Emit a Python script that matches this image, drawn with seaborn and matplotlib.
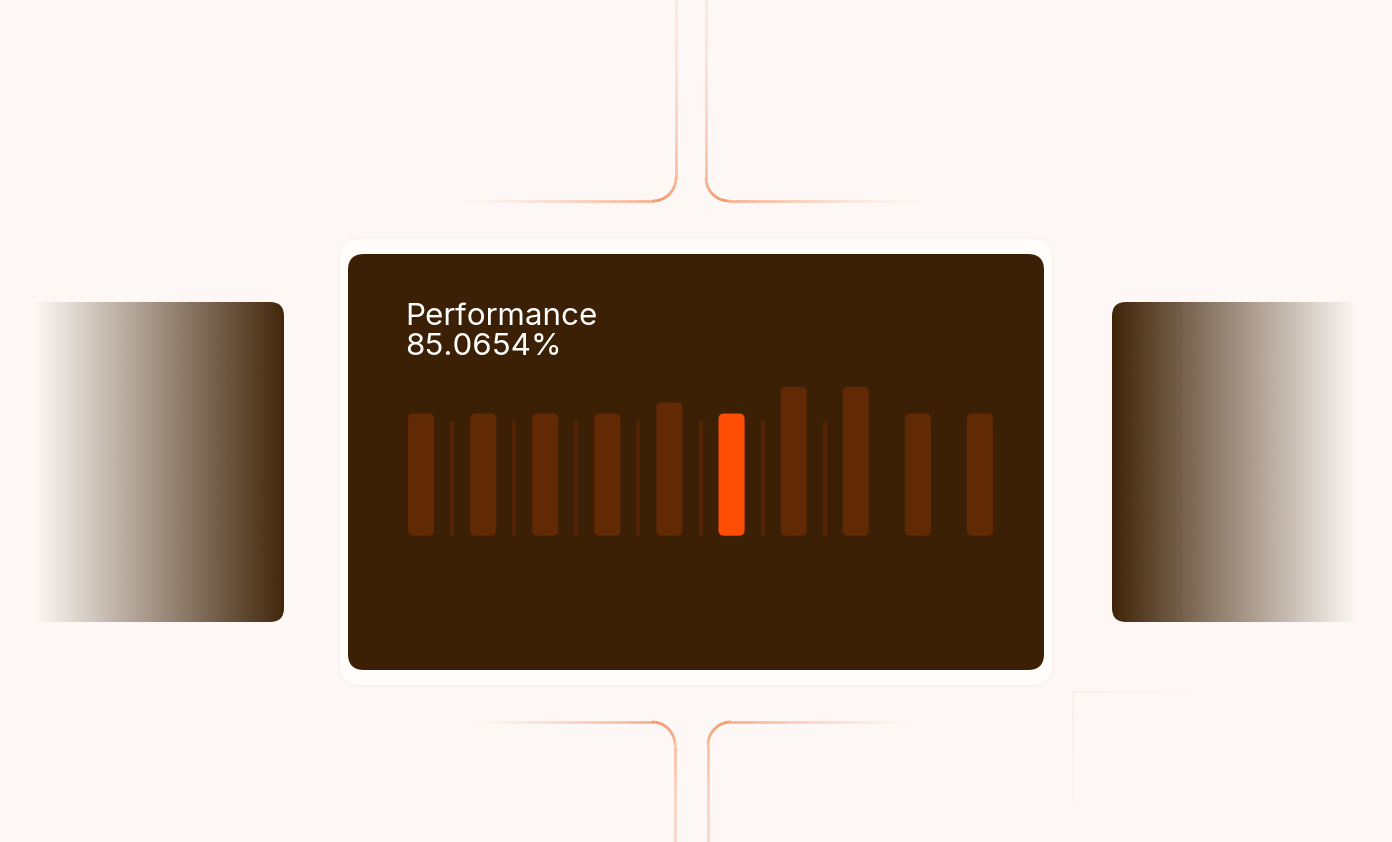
#!/usr/bin/env python3
"""Performance card: rounded bar strip on a dark card with decorative side panels."""

import matplotlib

matplotlib.use("Agg")

import matplotlib.pyplot as plt
import numpy as np
import pandas as pd
import seaborn as sns
from matplotlib.collections import LineCollection
from matplotlib.colors import to_rgb, to_rgba
from matplotlib.patches import FancyBboxPatch


W, H, DPI = 1392, 842, 100

TITLE = "Performance"
SCORE = "85.0654%"

PERIODS = ["P01", "P02", "P03", "P04", "P05", "P06", "P07", "P08", "P09", "P10"]
BAR_VALUES = [82, 82, 82, 82, 89.5, 82, 100, 100, 82, 82]
HIGHLIGHT = "P06"
# thin separators sitting between the first eight bars
TICK_VALUES = [77, 77, 77, 77, 77, 77, 77]

BG = "#FDF8F5"
HALO = "#FFFCFA"
CARD = "#3C2005"
SIDE = "#3F2307"
BAR = "#622905"
BAR_HI = "#FF4D06"
TICK = "#552406"
LINE = "#F2773F"
FAINT = "#F1E7E1"


def px_rect(left, top, right, bottom):
    return [left / W, 1 - bottom / H, (right - left) / W, (bottom - top) / H]


def gradient_panel(ax, left, right, top, bottom, fade_from, fade_to, dark_left):
    n = 400
    xs = np.linspace(left, right, n)
    alpha = np.clip((xs - fade_from) / (fade_to - fade_from), 0, 1)
    if dark_left:
        alpha = 1 - alpha
    rgba = np.zeros((1, n, 4))
    rgba[..., :3] = to_rgb(SIDE)
    rgba[..., 3] = alpha
    im = ax.imshow(rgba, extent=(left, right, bottom, top), aspect="auto",
                   interpolation="bilinear", zorder=1)
    clip = FancyBboxPatch((left, top), right - left, bottom - top,
                          boxstyle="round,pad=0,rounding_size=14",
                          fc="none", ec="none", transform=ax.transData)
    ax.add_patch(clip)
    im.set_clip_path(clip)


def connector(ax, cx, cy, sx, sy, len_v, len_h, r=23, far_v=0.12):
    pts, alphas = [], []
    # vertical arm, from far end towards the corner
    for t in np.linspace(0, 1, 120):
        d = len_v - t * (len_v - r)
        pts.append((cx, cy + sy * d))
        alphas.append(far_v + (0.5 - far_v) * t ** 2)
    # rounded corner
    ccx, ccy = cx + sx * r, cy + sy * r
    for th in np.linspace(0, np.pi / 2, 30):
        pts.append((ccx - sx * r * np.cos(th), ccy - sy * r * np.sin(th)))
        alphas.append(0.5 + 0.3 * np.sin(th))
    # horizontal arm fading out
    for t in np.linspace(0, 1, 120):
        d = r + t * (len_h - r)
        pts.append((cx + sx * d, cy))
        alphas.append(0.6 * (1 - t) ** 1.4)
    pts = np.array(pts)
    segs = np.stack([pts[:-1], pts[1:]], axis=1)
    colors = [to_rgba(LINE, a) for a in alphas[:-1]]
    ax.add_collection(LineCollection(segs, colors=colors, linewidths=2.0,
                                     capstyle="butt", zorder=2))


def faint_corner(ax, x0, y0, len_h, len_v):
    steps = np.linspace(0, 1, 60)
    for t0, t1 in zip(steps[:-1], steps[1:]):
        a = 0.6 * (1 - t0)
        ax.plot([x0 + t0 * len_h, x0 + t1 * len_h], [y0, y0], color=FAINT,
                alpha=a, lw=1.2, solid_capstyle="butt", zorder=1)
        ax.plot([x0, x0], [y0 + t0 * len_v, y0 + t1 * len_v], color=FAINT,
                alpha=a, lw=1.2, solid_capstyle="butt", zorder=1)


def main():
    sns.set_style("white")
    plt.rcParams["font.family"] = ["Inter", "DejaVu Sans"]

    fig = plt.figure(figsize=(W / DPI, H / DPI), dpi=DPI, facecolor=BG)
    bg = fig.add_axes([0, 0, 1, 1])
    bg.set_facecolor(BG)

    # side panels
    gradient_panel(bg, 20, 284, 302, 622, 34, 287, dark_left=False)
    gradient_panel(bg, 1112, 1360, 302, 622, 1112, 1358, dark_left=True)

    # decorative connectors above and below the card
    connector(bg, 676, 201, -1, -1, 201, 216)
    connector(bg, 706, 201, 1, -1, 201, 214)
    connector(bg, 675, 722, -1, 1, 121, 210, far_v=0.25)
    connector(bg, 708, 722, 1, 1, 121, 207, far_v=0.25)
    faint_corner(bg, 1073, 692, 135, 120)

    # card halo and card
    bg.add_patch(FancyBboxPatch((339, 238), 714, 448,
                                boxstyle="round,pad=0,rounding_size=22",
                                fc=HALO, ec="#FAF2EE", lw=1, zorder=3))
    bg.add_patch(FancyBboxPatch((348, 254), 696, 416,
                                boxstyle="round,pad=0,rounding_size=16",
                                fc=CARD, ec="none", zorder=4))

    bg.text(405, 325, TITLE, color="white", fontsize=22.6, va="baseline",
            ha="left", zorder=5)
    bg.text(405, 355, SCORE, color="white", fontsize=22.6, va="baseline",
            ha="left", zorder=5)

    bg.set_xlim(0, W)
    bg.set_ylim(H, 0)
    bg.axis("off")

    # bar strip
    left, right, top, bottom = 390, 1011, 386.7, 535.7
    ax = fig.add_axes(px_rect(left, top, right, bottom))
    ax.patch.set_alpha(0)
    ax.set_zorder(bg.get_zorder() + 1)

    df = pd.DataFrame({"period": PERIODS, "value": BAR_VALUES})
    palette = {p: (BAR_HI if p == HIGHLIGHT else BAR) for p in PERIODS}
    sns.barplot(data=df, x="period", y="value", hue="period", palette=palette,
                width=0.42, legend=False, saturation=1, ax=ax)

    ax.vlines(np.arange(len(TICK_VALUES)) + 0.5, 0, TICK_VALUES, colors=TICK,
              lw=3.0)

    ax.set_xlim(-0.5, len(PERIODS) - 0.5)
    ax.set_ylim(0, max(BAR_VALUES))
    x_per_px = len(PERIODS) / (right - left)
    y_per_px = max(BAR_VALUES) / (bottom - top)

    for bar in list(ax.patches):
        x, y = bar.get_x(), bar.get_y()
        w, h = bar.get_width(), bar.get_height()
        fc = bar.get_facecolor()
        bar.remove()
        ax.add_patch(FancyBboxPatch(
            (x, y), w, h,
            boxstyle=f"round,pad=0,rounding_size={5.5 * x_per_px}",
            mutation_aspect=y_per_px / x_per_px, fc=fc, ec="none"))

    ax.axis("off")

    fig.savefig("out.png", dpi=DPI, facecolor=BG)
    plt.close(fig)


if __name__ == "__main__":
    main()
